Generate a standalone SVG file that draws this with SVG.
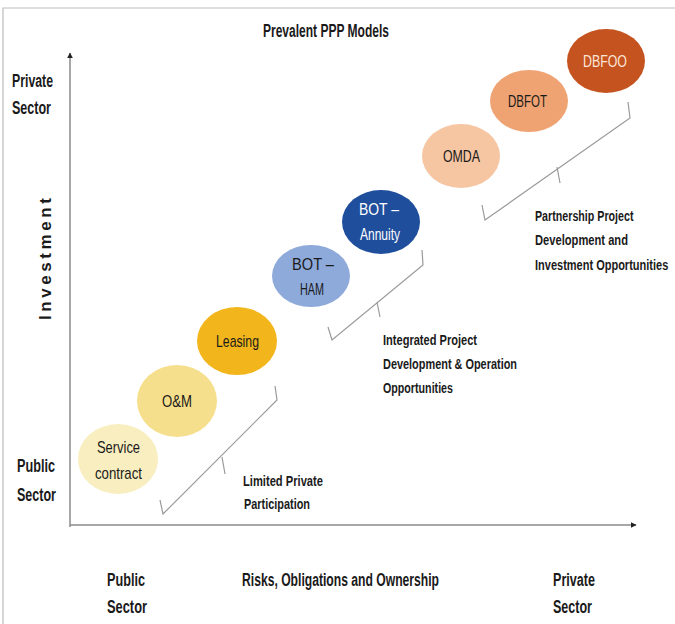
<svg xmlns="http://www.w3.org/2000/svg" width="675" height="624" viewBox="0 0 675 624">
<defs>
<style>
.t{font-family:"Liberation Sans",Arial,sans-serif;font-weight:bold;fill:#1a1a1a;}
.h{font-size:18px;}
.s{font-size:15.5px;}
.n{font-size:17px;font-weight:normal;}
.ax{stroke:#8a8a8a;stroke-width:1.5;fill:none;}
.br{stroke:#9a9a9a;stroke-width:1.2;fill:none;}
</style>
<marker id="arr" viewBox="0 0 10 10" refX="9" refY="5" markerWidth="6" markerHeight="6" orient="auto" markerUnits="userSpaceOnUse">
<path d="M0,0 L10,5 L0,10 z" fill="#222"/>
</marker>
</defs>
<rect x="0" y="0" width="675" height="624" fill="#ffffff"/>
<path d="M3,624 V8 H675" stroke="#bdbdbd" stroke-width="1.2" fill="none"/>
<text class="t h" x="263" y="37" textLength="126" lengthAdjust="spacingAndGlyphs">Prevalent PPP Models</text>
<text class="t h" x="12" y="87" textLength="41" lengthAdjust="spacingAndGlyphs">Private</text>
<text class="t h" x="12" y="114" textLength="39" lengthAdjust="spacingAndGlyphs">Sector</text>
<text class="t h" x="17" y="472" textLength="38" lengthAdjust="spacingAndGlyphs">Public</text>
<text class="t h" x="17" y="501" textLength="39" lengthAdjust="spacingAndGlyphs">Sector</text>
<text class="t" x="0" y="0" font-size="17" text-anchor="middle" textLength="122" lengthAdjust="spacing" transform="translate(51,259) rotate(-90)">Investment</text>
<text class="t h" x="107" y="586" textLength="38" lengthAdjust="spacingAndGlyphs">Public</text>
<text class="t h" x="107" y="613" textLength="40" lengthAdjust="spacingAndGlyphs">Sector</text>
<text class="t h" x="242" y="586" textLength="197" lengthAdjust="spacingAndGlyphs">Risks, Obligations and Ownership</text>
<text class="t h" x="553" y="586" textLength="42" lengthAdjust="spacingAndGlyphs">Private</text>
<text class="t h" x="553" y="613" textLength="39" lengthAdjust="spacingAndGlyphs">Sector</text>
<g id="connectors">
<line class="ax" x1="70" y1="527" x2="70" y2="53" marker-end="url(#arr)"/>
<line class="ax" x1="70" y1="525" x2="636" y2="525" marker-end="url(#arr)"/>
<path class="br" d="M160,500 L163,514 L277,400 L275,386 M222,457 L225,474"/>
<path class="br" d="M328,327 L332,340 L423,265 L422,250 M377,302 L380,317"/>
<path class="br" d="M482,205 L485,220 L630,118 L628,102 M557,167 L560,183"/>
</g>
<g id="node-service"><ellipse cx="118" cy="459" rx="40" ry="35" fill="#f8eec0"/><text class="t n" x="97" y="453" textLength="43" lengthAdjust="spacingAndGlyphs">Service</text><text class="t n" x="95" y="479" textLength="47" lengthAdjust="spacingAndGlyphs">contract</text></g>
<g id="node-om"><ellipse cx="177" cy="401" rx="40" ry="36" fill="#f6df8c"/><text class="t n" x="162" y="407" textLength="30" lengthAdjust="spacingAndGlyphs">O&amp;M</text></g>
<g id="node-leasing"><ellipse cx="237" cy="341" rx="40" ry="34" fill="#f2b61c"/><text class="t n" x="216" y="347" textLength="43" lengthAdjust="spacingAndGlyphs">Leasing</text></g>
<g id="node-botham"><ellipse cx="311" cy="276" rx="39" ry="31" fill="#8eaadb"/><text class="t n" x="292" y="270" textLength="42" lengthAdjust="spacingAndGlyphs">BOT –</text><text class="t n" x="300" y="295" textLength="24" lengthAdjust="spacingAndGlyphs">HAM</text></g>
<g id="node-botannuity"><ellipse cx="381" cy="222" rx="39" ry="32" fill="#1f4e9c"/><text class="t n" x="359" y="215" textLength="40" lengthAdjust="spacingAndGlyphs" style="fill:#ffffff">BOT –</text><text class="t n" x="360" y="240" textLength="40" lengthAdjust="spacingAndGlyphs" style="fill:#ffffff">Annuity</text></g>
<g id="node-omda"><ellipse cx="461" cy="156" rx="39" ry="32" fill="#f6c5a2"/><text class="t n" x="443" y="162" textLength="37" lengthAdjust="spacingAndGlyphs">OMDA</text></g>
<g id="node-dbfot"><ellipse cx="529" cy="101" rx="39" ry="31" fill="#f0a372"/><text class="t n" x="508" y="107" textLength="39" lengthAdjust="spacingAndGlyphs">DBFOT</text></g>
<g id="node-dbfoo"><ellipse cx="606" cy="61" rx="39" ry="32" fill="#c5531f"/><text class="t n" x="583" y="67" textLength="44" lengthAdjust="spacingAndGlyphs" style="fill:#fbe6d8">DBFOO</text></g>
<text class="t s" x="243" y="486" textLength="80" lengthAdjust="spacingAndGlyphs">Limited Private</text>
<text class="t s" x="244" y="509" textLength="66" lengthAdjust="spacingAndGlyphs">Participation</text>
<text class="t s" x="383" y="345" textLength="94" lengthAdjust="spacingAndGlyphs">Integrated Project</text>
<text class="t s" x="383" y="369" textLength="134" lengthAdjust="spacingAndGlyphs">Development &amp; Operation</text>
<text class="t s" x="383" y="393" textLength="70" lengthAdjust="spacingAndGlyphs">Opportunities</text>
<text class="t s" transform="translate(535,221) scale(0.69,1)" x="0" y="0">Partnership Project</text>
<text class="t s" transform="translate(535,245) scale(0.72,1)" x="0" y="0">Development and</text>
<text class="t s" transform="translate(535,270) scale(0.71,1)" x="0" y="0">Investment Opportunities</text>
</svg>
